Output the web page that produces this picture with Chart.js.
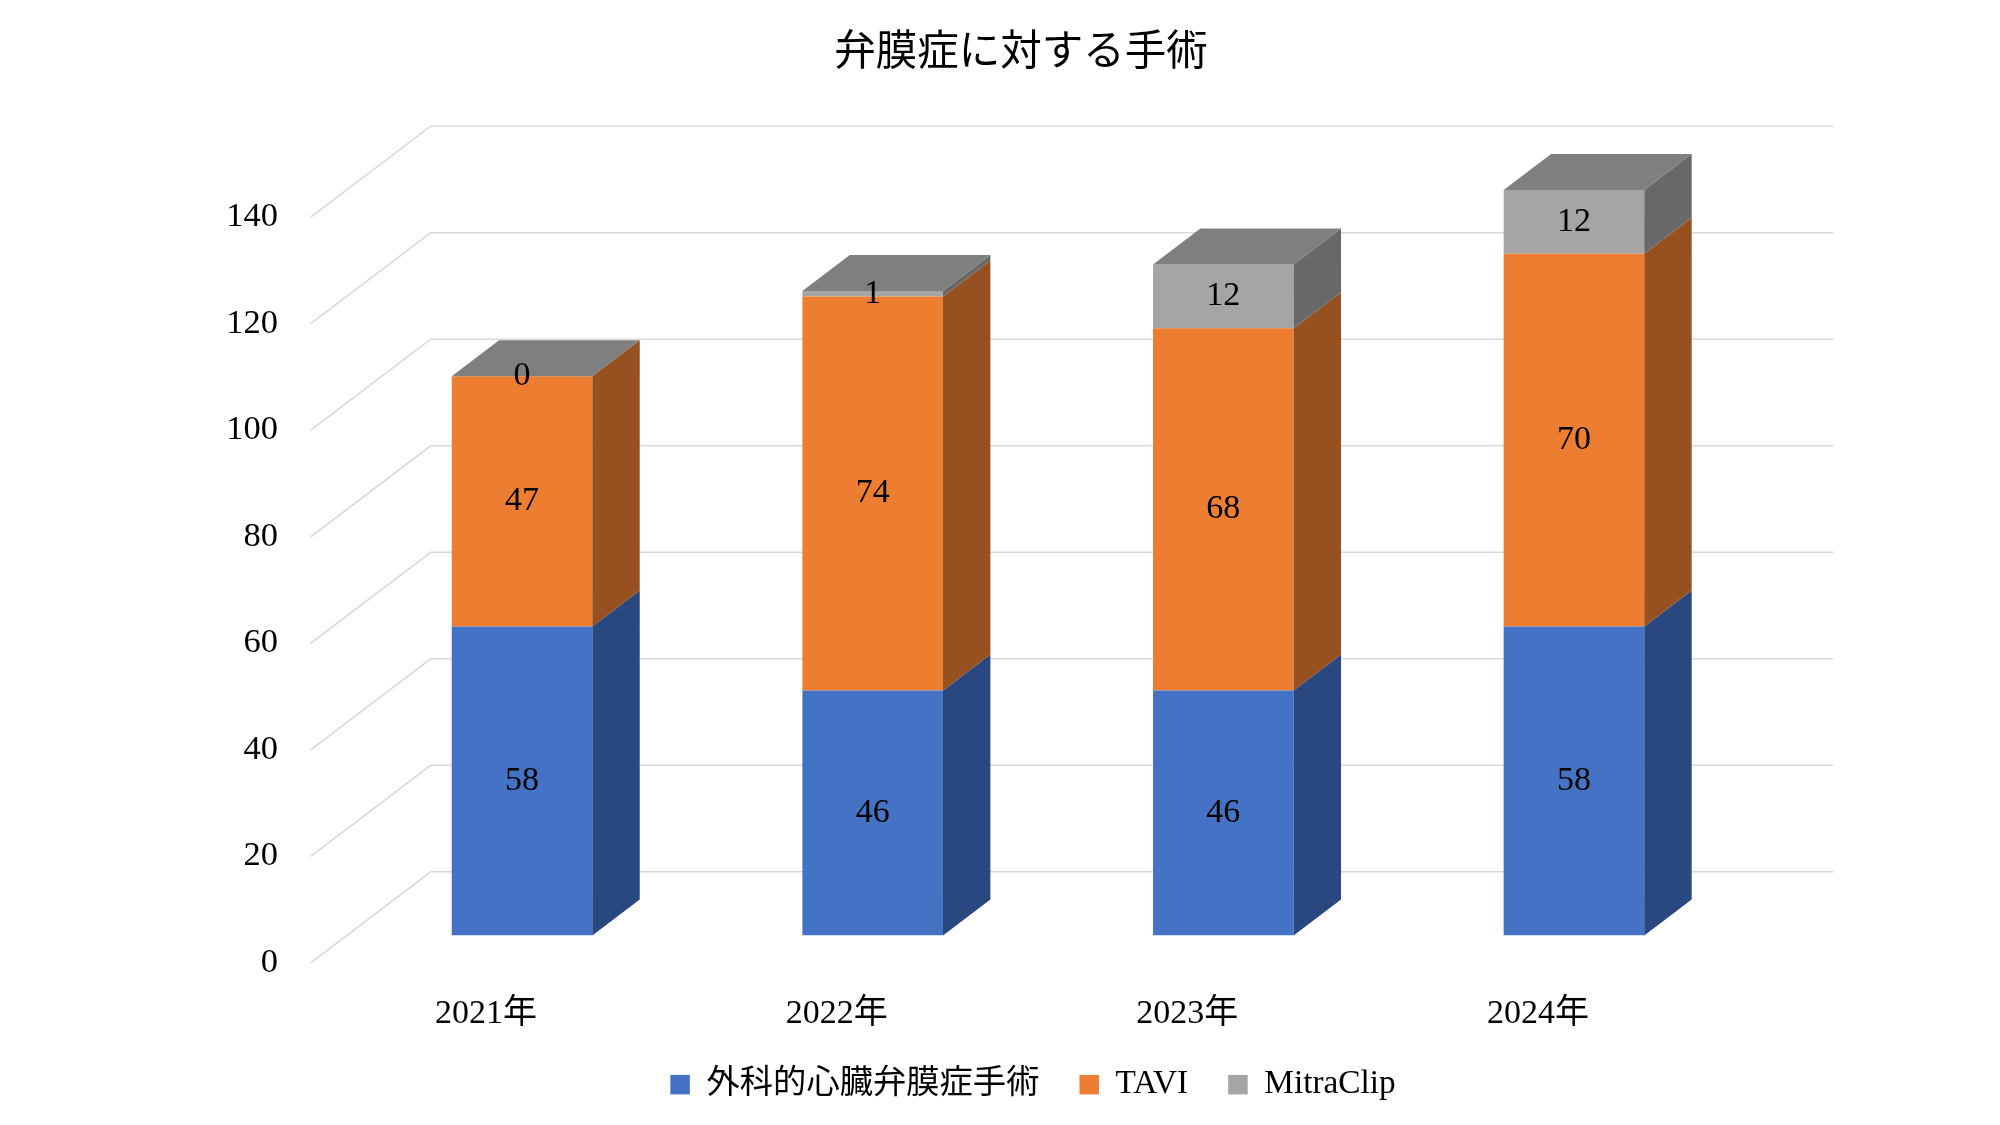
<!DOCTYPE html>
<html lang="ja">
<head>
<meta charset="utf-8">
<title>弁膜症に対する手術</title>
<script src="https://cdn.jsdelivr.net/npm/chart.js@4"></script>
<style>
  html, body { margin: 0; padding: 0; background: #ffffff; }
  canvas { display: block; }
</style>
</head>
<body>
<canvas id="myChart" width="2000" height="1125"></canvas>
<script>
// Chart data
const CHART_TITLE = "弁膜症に対する手術";
const categories = ["2021年", "2022年", "2023年", "2024年"];
const surgeryValues = [58, 46, 46, 58];
const taviValues = [47, 74, 68, 70];
const mitraClipValues = [0, 1, 12, 12];
const yTickStep = 20;
const yMax = 140;

// Colors
const GRID_COLOR = "#d9d9d9";
const TOP_COLOR = "#7f7f7f";
const FONT_FAMILY = "'Liberation Serif', 'Noto Sans CJK JP', serif";

// Fake 3D depth, in pixels
const WALL_DX = 120, WALL_DY = 91;    // side wall of the plot
const BAR_SHIFT_X = 36, BAR_SHIFT_Y = 27.3;  // front of the bars vs front of the wall
const BAR_DX = 47.4, BAR_DY = 36;     // depth of one bar

function fillPolygon(ctx, points, color) {
  ctx.fillStyle = color;
  ctx.beginPath();
  ctx.moveTo(points[0][0], points[0][1]);
  for (let i = 1; i < points.length; i++) {
    ctx.lineTo(points[i][0], points[i][1]);
  }
  ctx.closePath();
  ctx.fill();
}

// Draws the wall gridlines, then moves the bars forward into the plot
const depthPlugin = {
  id: "depth",
  afterLayout(chart) {
    chart.titleBlock.left = 42;
    chart.titleBlock.right = 2000;
    chart.legend.left = 66;
    chart.legend.right = 2000;
    chart.legend.top = 1028;
  },
  beforeDatasetsDraw(chart) {
    const ctx = chart.ctx;
    const area = chart.chartArea;
    const yScale = chart.scales.y;
    ctx.save();
    ctx.strokeStyle = GRID_COLOR;
    ctx.lineWidth = 1.6;
    yScale.ticks.forEach((tick) => {
      const y = yScale.getPixelForValue(tick.value);
      ctx.beginPath();
      ctx.moveTo(area.left, y);
      ctx.lineTo(area.left + WALL_DX, y - WALL_DY);
      ctx.lineTo(area.right + WALL_DX, y - WALL_DY);
      ctx.stroke();
    });
    ctx.restore();
    ctx.save();
    ctx.translate(BAR_SHIFT_X, -BAR_SHIFT_Y);
  },
  afterDatasetsDraw(chart) {
    const ctx = chart.ctx;
    const datasets = chart.data.datasets;

    // side faces
    datasets.forEach((dataset, d) => {
      chart.getDatasetMeta(d).data.forEach((bar) => {
        const right = bar.x + bar.width / 2;
        fillPolygon(ctx, [
          [right, bar.y],
          [right + BAR_DX, bar.y - BAR_DY],
          [right + BAR_DX, bar.base - BAR_DY],
          [right, bar.base],
        ], dataset.sideColor);
      });
    });

    // top faces, on the last stack
    chart.getDatasetMeta(datasets.length - 1).data.forEach((bar) => {
      const left = bar.x - bar.width / 2;
      const right = bar.x + bar.width / 2;
      fillPolygon(ctx, [
        [left, bar.y],
        [left + BAR_DX, bar.y - BAR_DY],
        [right + BAR_DX, bar.y - BAR_DY],
        [right, bar.y],
      ], TOP_COLOR);
    });

    // value labels
    ctx.fillStyle = "#000000";
    ctx.font = "34px " + FONT_FAMILY;
    ctx.textAlign = "center";
    ctx.textBaseline = "middle";
    datasets.forEach((dataset, d) => {
      chart.getDatasetMeta(d).data.forEach((bar, i) => {
        ctx.fillText(dataset.data[i], bar.x, (bar.y + bar.base) / 2);
      });
    });
    ctx.restore();
  },
};

const myChart = new Chart(document.getElementById("myChart").getContext("2d"), {
  type: "bar",
  data: {
    labels: categories,
    datasets: [
      { label: "外科的心臓弁膜症手術", data: surgeryValues, backgroundColor: "#4472c4", sideColor: "#2a4880" },
      { label: "TAVI", data: taviValues, backgroundColor: "#ed7d31", sideColor: "#97501f" },
      { label: "MitraClip", data: mitraClipValues, backgroundColor: "#a5a5a5", sideColor: "#686868" },
    ],
  },
  options: {
    responsive: false,
    animation: false,
    layout: { padding: { left: 0, right: 286.7, top: 0, bottom: 0 } },
    datasets: { bar: { barPercentage: 0.401, categoryPercentage: 1 } },
    plugins: {
      tooltip: { enabled: false },
      title: {
        display: true,
        text: CHART_TITLE,
        color: "#000000",
        font: { family: FONT_FAMILY, size: 41.5, weight: "normal" },
        padding: { top: 29, bottom: 138.4 },
      },
      legend: {
        position: "bottom",
        labels: {
          color: "#000000",
          font: { family: FONT_FAMILY, size: 33.3 },
          boxWidth: 19.5,
          boxHeight: 19.5,
          padding: 40,
        },
      },
    },
    scales: {
      x: {
        stacked: true,
        grid: { display: false },
        border: { display: false },
        ticks: {
          color: "#000000",
          font: { family: FONT_FAMILY, size: 34 },
          padding: 23,
          maxRotation: 0,
        },
        afterFit(scale) { scale.height = 78.9; },
      },
      y: {
        stacked: true,
        min: 0,
        max: yMax,
        grid: { display: false, drawTicks: false },
        border: { display: false },
        ticks: {
          stepSize: yTickStep,
          color: "#000000",
          font: { family: FONT_FAMILY, size: 34.5 },
          padding: 32.7,
        },
        afterFit(scale) { scale.width = 310.7; },
      },
    },
  },
  plugins: [depthPlugin],
});
</script>
</body>
</html>
